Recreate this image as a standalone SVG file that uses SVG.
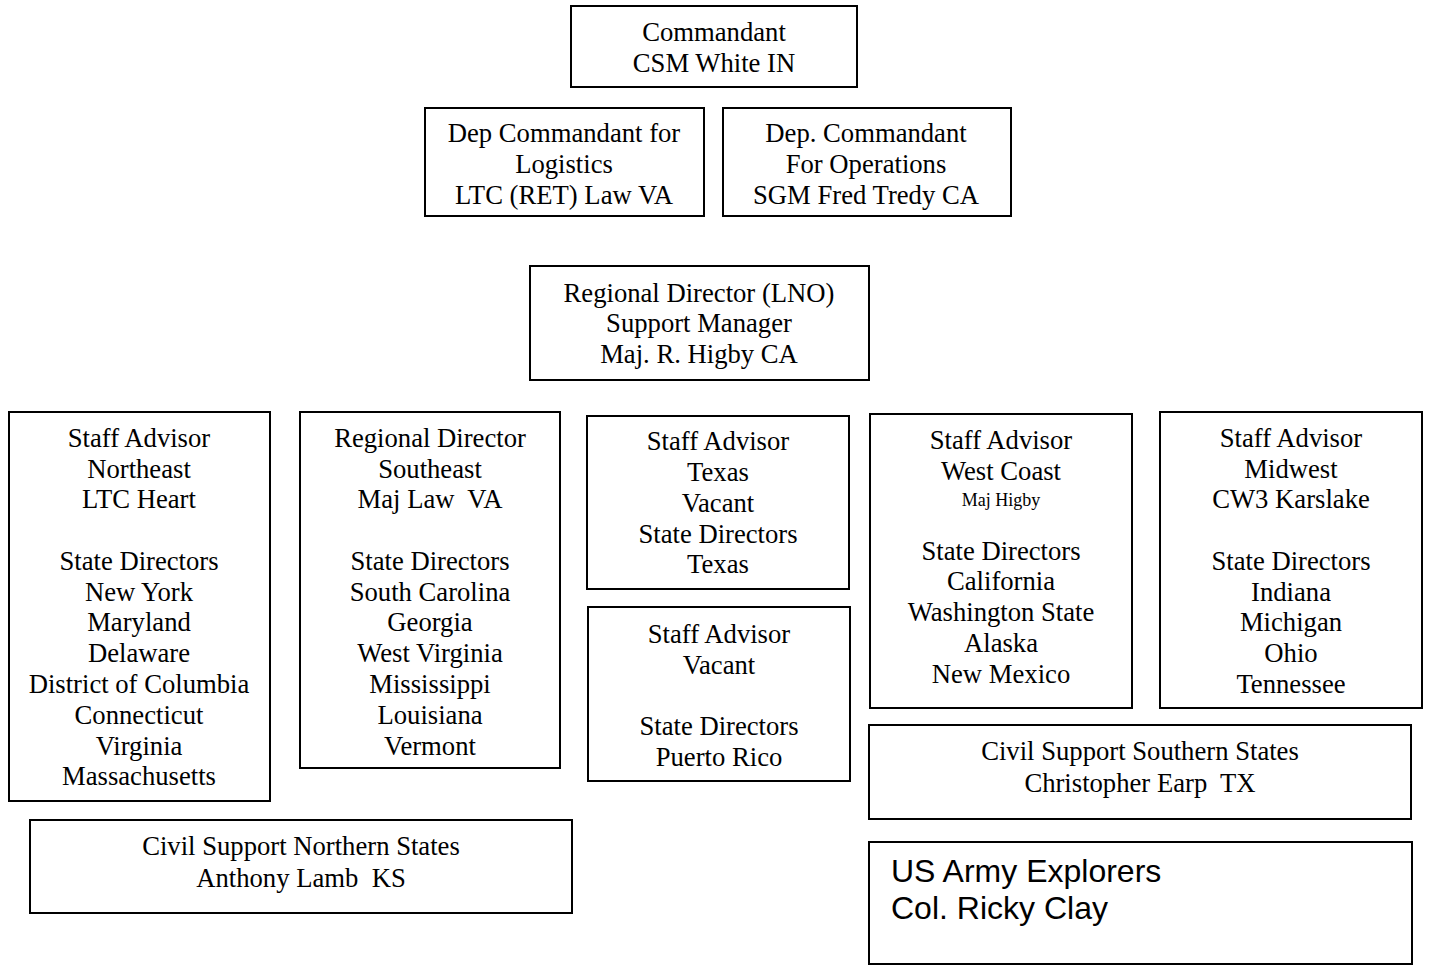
<svg xmlns="http://www.w3.org/2000/svg" width="1429" height="973" viewBox="0 0 1429 973">
<style>
rect.b{fill:#fff;stroke:#000;stroke-width:2}
text{font-family:"Liberation Serif","Times New Roman",serif;font-size:26.67px;fill:#000;text-anchor:middle}
text.s{font-size:18px}
text.a{font-family:"Liberation Sans",Arial,sans-serif;font-size:32px;text-anchor:start}
</style>
<rect width="1429" height="973" fill="#fff"/>
<g id="connectors"></g>
<g id="commandant"><rect class="b" x="571" y="6" width="286" height="81"/>
<text x="714" y="41">Commandant</text><text x="714" y="72">CSM White IN</text></g>
<g id="dep-logistics"><rect class="b" x="425" y="108" width="279" height="108"/>
<text x="564" y="142">Dep Commandant for</text><text x="564" y="173">Logistics</text><text x="564" y="204">LTC (RET) Law VA</text></g>
<g id="dep-operations"><rect class="b" x="723" y="108" width="288" height="108"/>
<text x="866" y="142">Dep. Commandant</text><text x="866" y="173">For Operations</text><text x="866" y="204">SGM Fred Tredy CA</text></g>
<g id="regional-lno"><rect class="b" x="530" y="266" width="339" height="114"/>
<text x="699" y="302">Regional Director (LNO)</text><text x="699" y="332">Support Manager</text><text x="699" y="363">Maj. R. Higby CA</text></g>
<g id="northeast"><rect class="b" x="9" y="412" width="261" height="389"/>
<text x="139" y="447">Staff Advisor</text><text x="139" y="478">Northeast</text><text x="139" y="508">LTC Heart</text>
<text x="139" y="570">State Directors</text><text x="139" y="601">New York</text><text x="139" y="631">Maryland</text><text x="139" y="662">Delaware</text><text x="139" y="693">District of Columbia</text><text x="139" y="724">Connecticut</text><text x="139" y="755">Virginia</text><text x="139" y="785">Massachusetts</text></g>
<g id="southeast"><rect class="b" x="300" y="412" width="260" height="356"/>
<text x="430" y="447">Regional Director</text><text x="430" y="478">Southeast</text><text x="430" y="508" xml:space="preserve">Maj Law  VA</text>
<text x="430" y="570">State Directors</text><text x="430" y="601">South Carolina</text><text x="430" y="631">Georgia</text><text x="430" y="662">West Virginia</text><text x="430" y="693">Mississippi</text><text x="430" y="724">Louisiana</text><text x="430" y="755">Vermont</text></g>
<g id="texas"><rect class="b" x="587" y="416" width="262" height="173"/>
<text x="718" y="450">Staff Advisor</text><text x="718" y="481">Texas</text><text x="718" y="512">Vacant</text><text x="718" y="543">State Directors</text><text x="718" y="573">Texas</text></g>
<g id="puerto-rico"><rect class="b" x="588" y="607" width="262" height="174"/>
<text x="719" y="643">Staff Advisor</text><text x="719" y="674">Vacant</text><text x="719" y="735">State Directors</text><text x="719" y="766">Puerto Rico</text></g>
<g id="west-coast"><rect class="b" x="870" y="414" width="262" height="294"/>
<text x="1001" y="449">Staff Advisor</text><text x="1001" y="480">West Coast</text><text class="s" x="1001" y="506">Maj Higby</text>
<text x="1001" y="560">State Directors</text><text x="1001" y="590">California</text><text x="1001" y="621">Washington State</text><text x="1001" y="652">Alaska</text><text x="1001" y="683">New Mexico</text></g>
<g id="midwest"><rect class="b" x="1160" y="412" width="262" height="296"/>
<text x="1291" y="447">Staff Advisor</text><text x="1291" y="478">Midwest</text><text x="1291" y="508">CW3 Karslake</text>
<text x="1291" y="570">State Directors</text><text x="1291" y="601">Indiana</text><text x="1291" y="631">Michigan</text><text x="1291" y="662">Ohio</text><text x="1291" y="693">Tennessee</text></g>
<g id="civil-southern"><rect class="b" x="869" y="725" width="542" height="94"/>
<text x="1140" y="760">Civil Support Southern States</text><text x="1140" y="792" xml:space="preserve">Christopher Earp  TX</text></g>
<g id="civil-northern"><rect class="b" x="30" y="820" width="542" height="93"/>
<text x="301" y="855">Civil Support Northern States</text><text x="301" y="887" xml:space="preserve">Anthony Lamb  KS</text></g>
<g id="explorers"><rect class="b" x="869" y="842" width="543" height="122"/>
<text class="a" x="891" y="882">US Army Explorers</text><text class="a" x="891" y="919">Col. Ricky Clay</text></g>
</svg>
